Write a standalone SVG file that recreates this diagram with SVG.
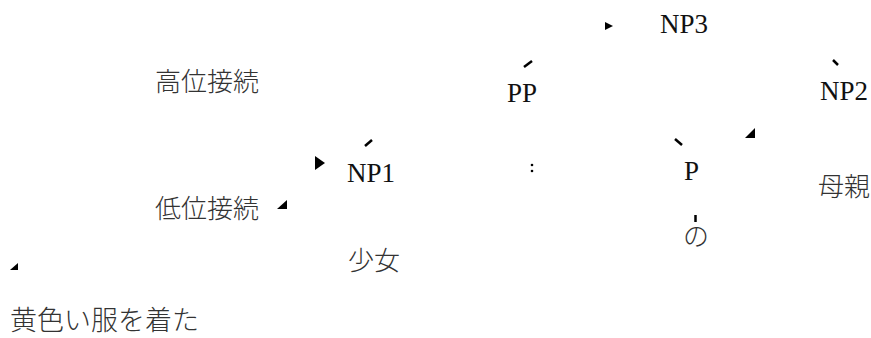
<svg xmlns="http://www.w3.org/2000/svg" width="871" height="338" viewBox="0 0 871 338">
  <style>
    .lat { font-family: "Liberation Serif", Tinos, "Times New Roman", Times, "DejaVu Serif", serif; font-size: 27px; fill: #111; }
    .jp { font-family: "Noto Sans CJK JP", "Noto Sans", sans-serif; font-size: 26px; font-weight: 300; fill: #333; }
    .tick { stroke: #000; stroke-width: 2.5; stroke-linecap: butt; fill: none; }
    .head { fill: #000; }
  </style>
  <rect width="871" height="338" fill="#fff"/>

  <!-- tree nodes -->
  <g id="np3"><text class="lat" x="660" y="33">NP3</text></g>
  <g id="pp"><text class="lat" x="507" y="102">PP</text></g>
  <g id="np2"><text class="lat" x="820" y="100">NP2</text></g>
  <g id="np1"><text class="lat" x="347" y="182">NP1</text></g>
  <g id="p"><text class="lat" x="684" y="180">P</text></g>
  <g id="no"><text class="jp" x="683" y="246">の</text></g>
  <g id="hahaoya"><text class="jp" x="818" y="196">母親</text></g>
  <g id="shoujo"><text class="jp" x="348" y="270">少女</text></g>
  <g id="kii"><text class="jp" x="10" y="330" style="font-size:27px">黄色い服を着た</text></g>

  <!-- attachment labels -->
  <g id="koui"><text class="jp" x="155" y="91">高位接続</text></g>
  <g id="teii"><text class="jp" x="155" y="218">低位接続</text></g>

  <!-- connectors: short strokes and arrowheads -->
  <g id="connectors">
    <line class="tick" x1="524" y1="67" x2="532" y2="61"/>
    <line class="tick" x1="365" y1="146" x2="372" y2="140"/>
    <line class="tick" x1="833" y1="60" x2="838" y2="65"/>
    <line class="tick" x1="675" y1="139" x2="682" y2="145"/>
    <line class="tick" x1="695.5" y1="215" x2="695.5" y2="222"/>
    <polygon class="head" points="605,22 613,26 605,30"/>
    <polygon class="head" points="315,156 325,163 315,170"/>
    <polygon class="head" points="287,200 287,209 277,209"/>
    <polygon class="head" points="755,128 755,138 745,138"/>
    <polygon class="head" points="18,263 18,270 10,270"/>
    <circle class="head" cx="532" cy="165" r="1.3"/>
    <circle class="head" cx="532" cy="171" r="1.3"/>
  </g>
</svg>
